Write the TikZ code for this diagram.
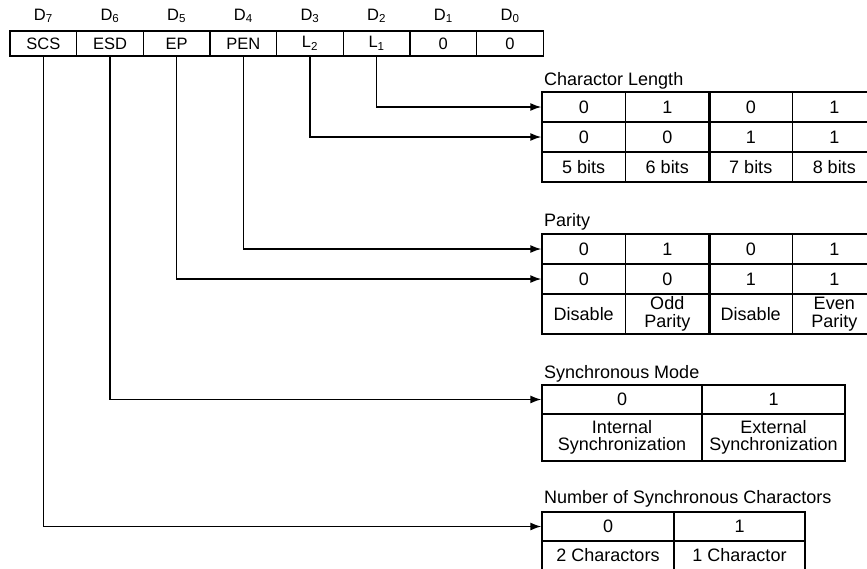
\documentclass[tikz,border=0pt]{standalone}
\usepackage{fontspec}
\setmainfont{Liberation Sans}
\usetikzlibrary{arrows.meta}

\begin{document}
\begin{tikzpicture}[
        x=1pt, y=-1pt,
        bit/.style={draw, line width=1.4pt, minimum width=66.6pt,
                minimum height=25pt, inner sep=0pt, font=\fontsize{16.5}{18}\selectfont},
        bitlbl/.style={inner sep=0pt, font=\fontsize{16.5}{18}\selectfont},
        title/.style={anchor=base west, inner sep=0pt, font=\fontsize{18}{20}\selectfont},
        cell/.style={draw, line width=1.4pt, inner sep=0pt, align=center,
                font=\fontsize{18}{17.5}\selectfont},
        lencell/.style={cell, minimum width=83.5pt, minimum height=30pt},
        arrow/.style={-{Latex[length=11pt,width=8pt]}, line width=1.4pt}
    ]
    \useasboundingbox (0,0) rectangle (867,568);

    % mode register
    \node[bitlbl] (d7) at (43.3,16) {D\textsubscript{7}};
    \node[bitlbl] (d6) at (110,16) {D\textsubscript{6}};
    \node[bitlbl] (d5) at (176.6,16) {D\textsubscript{5}};
    \node[bitlbl] (d4) at (243.3,16) {D\textsubscript{4}};
    \node[bitlbl] (d3) at (310,16) {D\textsubscript{3}};
    \node[bitlbl] (d2) at (376.6,16) {D\textsubscript{2}};
    \node[bitlbl] (d1) at (443.3,16) {D\textsubscript{1}};
    \node[bitlbl] (d0) at (510,16) {D\textsubscript{0}};

    \node[bit] (scs) at (43.3,43.5) {SCS};
    \node[bit] (esd) at (110,43.5) {ESD};
    \node[bit] (ep) at (176.6,43.5) {EP};
    \node[bit] (pen) at (243.3,43.5) {PEN};
    \node[bit] (lb2) at (310,43.5) {L\textsubscript{2}};
    \node[bit] (lb1) at (376.6,43.5) {L\textsubscript{1}};
    \node[bit] (zb1) at (443.3,43.5) {0};
    \node[bit] (zb0) at (510,43.5) {0};

    % character length
    \node[title] (lentitle) at (544,85) {Charactor Length};
    \node[lencell] (len-r1c1) at (583.75,107) {0};
    \node[lencell] (len-r1c2) at (667.25,107) {1};
    \node[lencell] (len-r1c3) at (750.75,107) {0};
    \node[lencell] (len-r1c4) at (834.25,107) {1};
    \node[lencell] (len-r2c1) at (583.75,137) {0};
    \node[lencell] (len-r2c2) at (667.25,137) {0};
    \node[lencell] (len-r2c3) at (750.75,137) {1};
    \node[lencell] (len-r2c4) at (834.25,137) {1};
    \node[lencell] (len-r3c1) at (583.75,167) {5 bits};
    \node[lencell] (len-r3c2) at (667.25,167) {6 bits};
    \node[lencell] (len-r3c3) at (750.75,167) {7 bits};
    \node[lencell] (len-r3c4) at (834.25,167) {8 bits};
    \draw[line width=2.2pt] (len-r1c2.north east) -- (len-r3c2.south east);

    % parity
    \node[title] (partitle) at (544,226) {Parity};
    \node[lencell] (par-r1c1) at (583.75,249) {0};
    \node[lencell] (par-r1c2) at (667.25,249) {1};
    \node[lencell] (par-r1c3) at (750.75,249) {0};
    \node[lencell] (par-r1c4) at (834.25,249) {1};
    \node[lencell] (par-r2c1) at (583.75,279) {0};
    \node[lencell] (par-r2c2) at (667.25,279) {0};
    \node[lencell] (par-r2c3) at (750.75,279) {1};
    \node[lencell] (par-r2c4) at (834.25,279) {1};
    \node[lencell, minimum height=40pt] (par-r3c1) at (583.75,314) {Disable};
    \node[lencell, minimum height=40pt] (par-r3c2) at (667.25,314) {Odd\\Parity};
    \node[lencell, minimum height=40pt] (par-r3c3) at (750.75,314) {Disable};
    \node[lencell, minimum height=40pt] (par-r3c4) at (834.25,314) {Even\\Parity};
    \draw[line width=2.2pt] (par-r1c2.north east) -- (par-r3c2.south east);

    % synchronous mode
    \node[title] (syntitle) at (544,378) {Synchronous Mode};
    \node[cell, minimum width=160pt, minimum height=29pt] (syn-r1c1) at (622,399.5) {0};
    \node[cell, minimum width=143pt, minimum height=29pt] (syn-r1c2) at (773.5,399.5) {1};
    \node[cell, minimum width=160pt, minimum height=47pt] (syn-r2c1) at (622,437.5) {Internal\\Synchronization};
    \node[cell, minimum width=143pt, minimum height=47pt] (syn-r2c2) at (773.5,437.5) {External\\Synchronization};

    % number of sync characters
    \node[title] (numtitle) at (544,503) {Number of Synchronous Charactors};
    \node[cell, minimum width=132pt, minimum height=29pt] (num-r1c1) at (608,526.5) {0};
    \node[cell, minimum width=131pt, minimum height=29pt] (num-r1c2) at (739.5,526.5) {1};
    \node[cell, minimum width=132pt, minimum height=29pt] (num-r2c1) at (608,555.5) {2 Charactors};
    \node[cell, minimum width=131pt, minimum height=29pt] (num-r2c2) at (739.5,555.5) {1 Charactor};

    \draw[arrow] (lb1.south) |- (len-r1c1.west);
    \draw[arrow] (lb2.south) |- (len-r2c1.west);
    \draw[arrow] (pen.south) |- (par-r1c1.west);
    \draw[arrow] (ep.south) |- (par-r2c1.west);
    \draw[arrow] (esd.south) |- (syn-r1c1.west);
    \draw[arrow] (scs.south) |- (num-r1c1.west);
\end{tikzpicture}
\end{document}
